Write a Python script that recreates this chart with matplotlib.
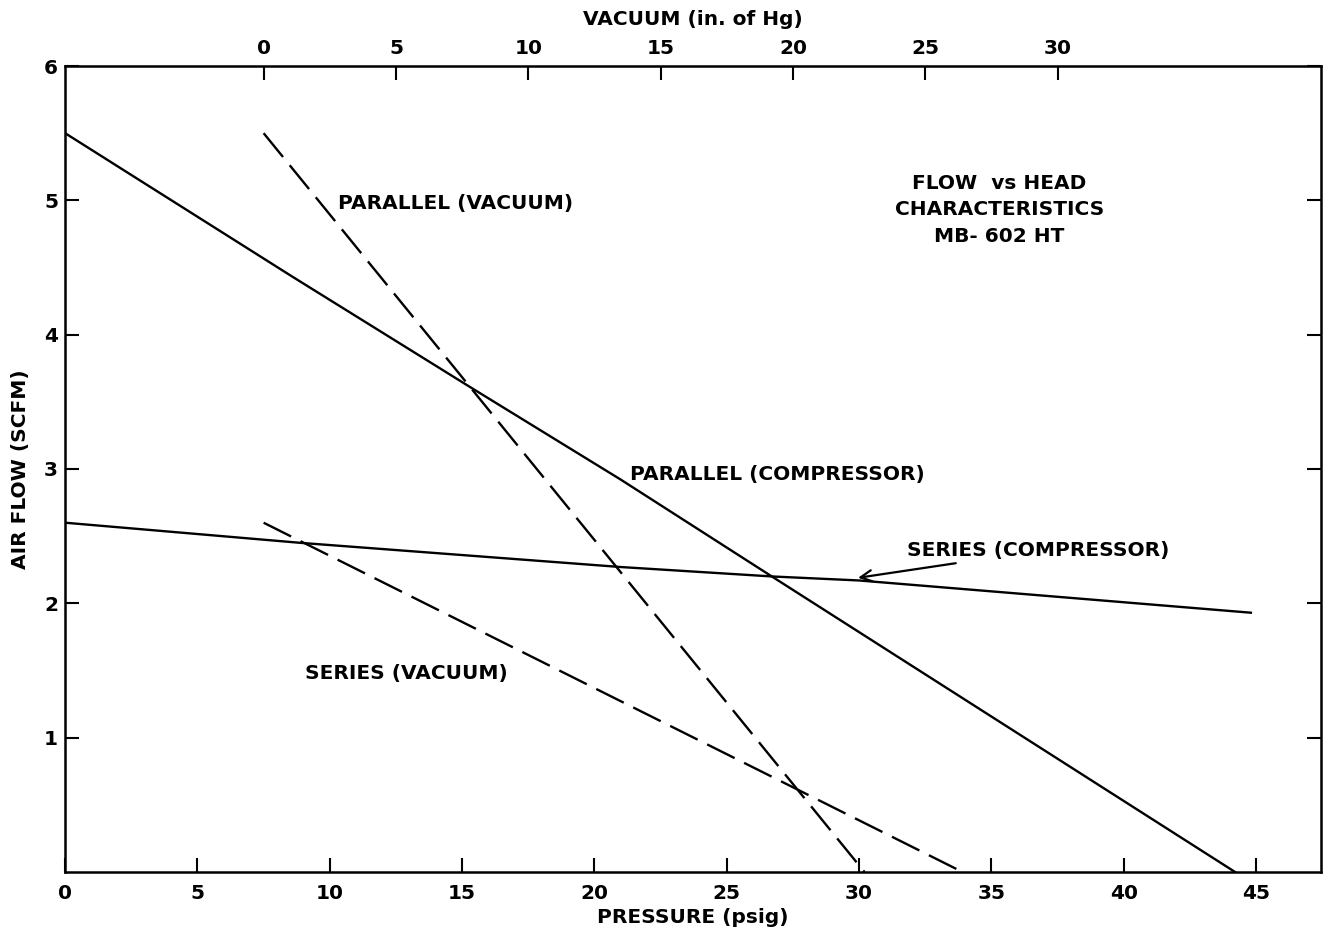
import matplotlib
matplotlib.use("Agg")
import matplotlib.pyplot as plt

# pressure (psig) vs air flow (scfm), compressor curves
par_comp_p = [0, 8.6, 15.3, 21, 26.7, 44.2]
par_comp_q = [5.5, 4.43, 3.61, 2.92, 2.2, 0]

ser_comp_p = [0, 8.9, 21, 26.7, 30, 44.8]
ser_comp_q = [2.6, 2.45, 2.27, 2.2, 2.17, 1.93]

# vacuum (in. of Hg) vs air flow, vacuum curves
par_vac_v = [0, 22.7]
par_vac_q = [5.5, 0]

ser_vac_v = [0, 26.4]
ser_vac_q = [2.6, 0]

VAC_OFFSET = 7.5  # vacuum 0 sits at 7.5 psig on the bottom scale

plt.rcParams['font.family'] = ['DejaVu Sans']
plt.rcParams['font.weight'] = 'bold'
FS = 14.5

fig = plt.figure(figsize=(13.29, 9.39), dpi=100)
ax = fig.add_axes([0.049, 0.0714, 0.945, 0.8583])

ax.plot(par_comp_p, par_comp_q, color="black", lw=1.7)
ax.plot(ser_comp_p, ser_comp_q, color="black", lw=1.7)
ax.plot([v + VAC_OFFSET for v in par_vac_v], par_vac_q, color="black", lw=1.7, dashes=(13, 4.5))
ax.plot([v + VAC_OFFSET for v in ser_vac_v], ser_vac_q, color="black", lw=1.7, dashes=(13, 4.5))

ax.set_xlim(0, 47.45)
ax.set_ylim(0, 6)

ax.set_xticks(range(0, 50, 5))
ax.set_yticks([1, 2, 3, 4, 5, 6])
ax.tick_params(direction="in", length=10, width=1.5, labelsize=FS, pad=9)
ax.tick_params(axis="y", right=True, labelright=False, pad=5)
for s in ax.spines.values():
    s.set_linewidth(1.8)

ax.set_xlabel("PRESSURE (psig)", fontsize=FS, labelpad=3, fontweight="bold")
ax.set_ylabel("AIR FLOW (SCFM)", fontsize=FS, labelpad=10, fontweight="bold")

top = ax.secondary_xaxis("top", functions=(lambda p: p - VAC_OFFSET, lambda v: v + VAC_OFFSET))
top.set_xticks(range(0, 35, 5))
top.tick_params(direction="in", length=10, width=1.5, labelsize=FS, pad=6)
top.set_xlabel("VACUUM (in. of Hg)", fontsize=FS, labelpad=10, fontweight="bold")

ax.text(10.3, 4.98, "PARALLEL (VACUUM)", fontsize=FS, va="center")
ax.text(21.35, 2.96, "PARALLEL (COMPRESSOR)", fontsize=FS, va="center")
ax.text(9.07, 1.48, "SERIES (VACUUM)", fontsize=FS, va="center")
ax.annotate("SERIES (COMPRESSOR)", xy=(29.96, 2.19), xytext=(31.8, 2.39),
            fontsize=FS, va="center",
            arrowprops=dict(arrowstyle="->", color="black", lw=1.6,
                            mutation_scale=20, shrinkA=0, shrinkB=0))
ax.text(35.3, 4.93, "FLOW  vs HEAD\nCHARACTERISTICS\nMB- 602 HT", fontsize=FS,
        ha="center", va="center", linespacing=1.5)

fig.savefig("out.png", dpi=100)
